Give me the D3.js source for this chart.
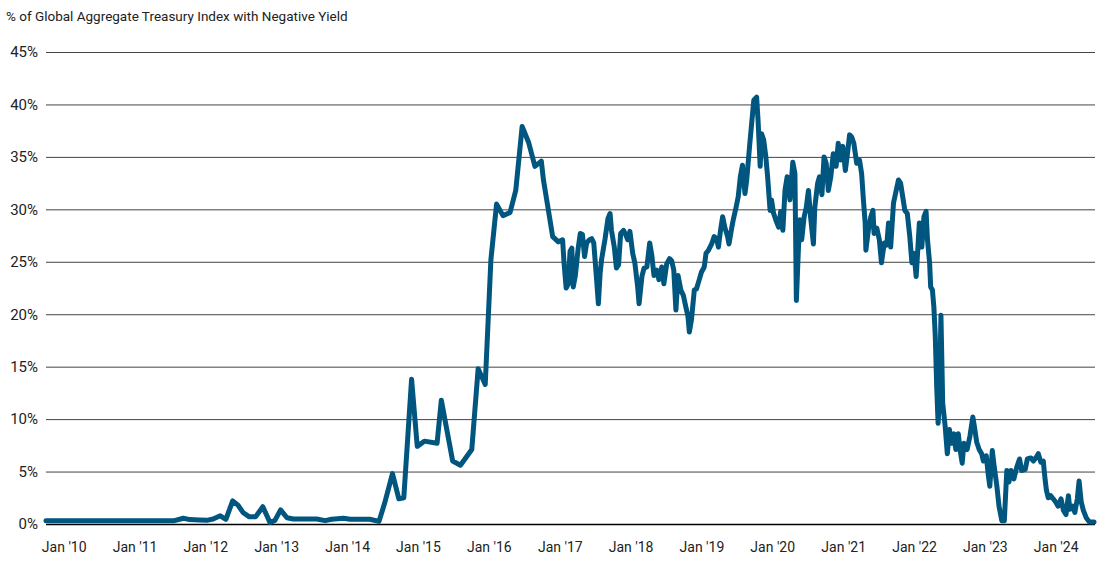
<!DOCTYPE html>
<html>
<head>
<meta charset="utf-8">
<script src="https://cdn.jsdelivr.net/npm/d3@7"></script>
<style>
  body { margin: 0; background: #fff; }
  svg text { font-family: "Roboto", "Liberation Sans", sans-serif; fill: #222; }
</style>
</head>
<body>
<svg id="chart" width="1100" height="561"></svg>
<script>
// chart title
let titleText = '% of Global Aggregate Treasury Index with Negative Yield'

// y axis ticks (percent)
let yTicks = [0, 5, 10, 15, 20, 25, 30, 35, 40, 45]

// x axis ticks (January of each year) and labels
let tickYears = [2010, 2011, 2012, 2013, 2014, 2015, 2016, 2017, 2018, 2019, 2020, 2021, 2022, 2023, 2024]
let tickLabels = ["Jan '10", "Jan '11", "Jan '12", "Jan '13", "Jan '14", "Jan '15", "Jan '16", "Jan '17",
    "Jan '18", "Jan '19", "Jan '20", "Jan '21", "Jan '22", "Jan '23", "Jan '24"]

// series: dates as decimal years, values in %
let dates = [
    2009.75, 2010.0, 2010.5, 2011.0, 2011.22, 2011.55, 2011.69, 2011.78, 2011.92, 2012.02,
    2012.11, 2012.21, 2012.29, 2012.385, 2012.46, 2012.53, 2012.62, 2012.71, 2012.81, 2012.91,
    2012.98, 2013.06, 2013.15, 2013.24, 2013.57, 2013.69, 2013.78, 2013.95, 2014.04, 2014.32,
    2014.45, 2014.53, 2014.64, 2014.73, 2014.80, 2014.91, 2014.99, 2015.09, 2015.27, 2015.33,
    2015.49, 2015.60, 2015.76, 2015.85, 2015.95, 2016.03, 2016.11, 2016.20, 2016.30, 2016.38,
    2016.47, 2016.56, 2016.65, 2016.74, 2016.77, 2016.84, 2016.90, 2016.98,
    // 2017 - 2018
    2017.04, 2017.06, 2017.09, 2017.12, 2017.145, 2017.17, 2017.19, 2017.22, 2017.26, 2017.29,
    2017.32, 2017.35, 2017.38, 2017.42, 2017.45, 2017.48, 2017.52, 2017.545, 2017.57, 2017.59,
    2017.64, 2017.68, 2017.71, 2017.73, 2017.77, 2017.80, 2017.83, 2017.86, 2017.90, 2017.93,
    2017.96, 2017.99, 2018.03, 2018.06, 2018.10, 2018.12, 2018.16, 2018.19, 2018.23, 2018.27,
    2018.30, 2018.33, 2018.37, 2018.40, 2018.44, 2018.47, 2018.51, 2018.55, 2018.58, 2018.61,
    2018.64, 2018.67, 2018.71, 2018.745, 2018.78, 2018.81, 2018.83, 2018.86, 2018.90, 2018.93,
    2018.97,
    // 2019 - 2020
    2019.00, 2019.04, 2019.065, 2019.10, 2019.145, 2019.18, 2019.215, 2019.24, 2019.27, 2019.30,
    2019.33, 2019.37, 2019.39, 2019.43, 2019.45, 2019.49, 2019.52, 2019.55, 2019.58, 2019.615,
    2019.64, 2019.68, 2019.71, 2019.74, 2019.78, 2019.80, 2019.83, 2019.85, 2019.88, 2019.91,
    2019.935, 2019.97, 2019.99, 2020.02, 2020.05, 2020.09, 2020.12, 2020.15, 2020.18, 2020.21,
    2020.25, 2020.29, 2020.32, 2020.34, 2020.37, 2020.39, 2020.415, 2020.45, 2020.48, 2020.51,
    2020.54, 2020.58, 2020.60, 2020.64, 2020.665, 2020.70, 2020.73, 2020.76, 2020.79, 2020.825,
    2020.86, 2020.90, 2020.93, 2020.96, 2020.995,
    // 2021 - 2022
    2021.03, 2021.06, 2021.09, 2021.12, 2021.15, 2021.19, 2021.23, 2021.26, 2021.285, 2021.31,
    2021.32, 2021.355, 2021.39, 2021.42, 2021.435, 2021.475, 2021.51, 2021.54, 2021.58, 2021.615,
    2021.64, 2021.67, 2021.71, 2021.745, 2021.78, 2021.81, 2021.84, 2021.87, 2021.905, 2021.94,
    2021.97, 2022.00, 2022.03, 2022.05, 2022.075, 2022.11, 2022.14, 2022.17, 2022.19, 2022.22,
    2022.235, 2022.26, 2022.28, 2022.30, 2022.32, 2022.34, 2022.36, 2022.38, 2022.405, 2022.44,
    2022.47, 2022.50, 2022.53, 2022.565, 2022.59, 2022.625, 2022.65, 2022.68, 2022.705, 2022.75,
    2022.79, 2022.83, 2022.85, 2022.885, 2022.92, 2022.955, 2022.98,
    // 2023 - 2024
    2023.02, 2023.05, 2023.07, 2023.105, 2023.13, 2023.17, 2023.20, 2023.24, 2023.275, 2023.31,
    2023.34, 2023.37, 2023.41, 2023.45, 2023.49, 2023.52, 2023.57, 2023.60, 2023.65, 2023.685,
    2023.72, 2023.755, 2023.79, 2023.825, 2023.85, 2023.87, 2023.895, 2023.93, 2023.965, 2024.00,
    2024.035, 2024.075, 2024.11, 2024.145, 2024.18, 2024.20, 2024.24, 2024.27, 2024.305, 2024.33,
    2024.36, 2024.39, 2024.43, 2024.475, 2024.54
]
let values = [
    0.3, 0.3, 0.3, 0.3, 0.3, 0.3, 0.55, 0.42, 0.38, 0.35,
    0.48, 0.78, 0.45, 2.2, 1.8, 1.1, 0.68, 0.7, 1.65, 0.15,
    0.35, 1.35, 0.6, 0.48, 0.48, 0.32, 0.45, 0.55, 0.45, 0.45,
    0.25, 2.0, 4.8, 2.4, 2.5, 13.8, 7.4, 7.9, 7.7, 11.8,
    6.0, 5.6, 7.1, 14.8, 13.3, 25.2, 30.5, 29.4, 29.7, 31.8,
    37.9, 36.4, 34.1, 34.6, 32.8, 29.9, 27.4, 26.9,
    // 2017 - 2018
    27.1, 24.9, 22.5, 22.9, 26.0, 26.3, 22.6, 23.7, 26.3, 27.7,
    27.6, 25.5, 26.8, 27.1, 27.2, 26.8, 23.3, 21.0, 23.9, 25.2,
    27.2, 29.1, 29.6, 28.0, 26.4, 24.4, 24.7, 27.7, 28.0, 27.6,
    27.1, 27.9, 25.8, 24.9, 22.6, 21.0, 23.6, 24.4, 24.5, 26.8,
    25.6, 23.7, 24.2, 23.3, 24.5, 22.9, 24.8, 25.3, 25.1, 24.2,
    20.4, 23.7, 22.3, 21.8, 20.7, 19.8, 18.3, 19.5, 22.3, 22.4,
    23.3,
    // 2019 - 2020
    24.0, 24.5, 25.8, 26.1, 26.7, 27.4, 27.2, 26.4, 28.0, 29.3,
    28.3, 27.4, 26.7, 28.3, 29.0, 30.2, 31.2, 33.1, 34.2, 31.5,
    32.8, 36.0, 38.2, 40.4, 40.7, 38.5, 34.1, 37.2, 36.6, 35.0,
    33.1, 29.9, 30.9, 29.6, 29.0, 28.3, 29.8, 28.0, 31.8, 33.1,
    30.9, 34.5, 33.4, 21.3, 26.4, 29.0, 27.1, 29.3, 30.2, 31.8,
    29.3, 26.7, 30.2, 32.5, 33.1, 31.4, 35.0, 34.4, 31.8, 33.1,
    35.3, 34.1, 36.3, 34.7, 36.0,
    // 2021 - 2022
    33.7, 35.3, 37.1, 36.9, 36.3, 34.4, 34.7, 33.4, 30.9, 28.7,
    26.1, 28.0, 29.3, 29.9, 27.7, 28.2, 27.1, 24.9, 26.8, 26.6,
    28.7, 26.4, 30.6, 31.7, 32.8, 32.5, 31.2, 29.9, 29.6, 27.4,
    24.9, 25.8, 23.6, 25.8, 28.7, 26.4, 29.3, 29.8, 27.1, 24.9,
    22.6, 22.3, 20.7, 17.9, 13.1, 9.6, 12.0, 19.9, 11.5, 9.3,
    6.7, 9.0, 7.7, 8.6, 7.1, 8.6, 7.1, 5.8, 7.7, 7.1,
    8.4, 10.2, 9.4, 7.8, 7.1, 6.7, 6.0,
    // 2023 - 2024
    6.5, 4.6, 3.6, 7.0, 5.6, 3.6, 1.7, 0.3, 0.3, 5.1,
    4.0, 5.1, 4.3, 5.4, 6.2, 5.1, 5.2, 6.2, 6.3, 6.0,
    6.3, 6.7, 5.9, 6.0, 4.3, 3.2, 2.5, 2.7, 2.4, 2.1,
    1.7, 2.4, 1.3, 0.9, 2.7, 1.4, 1.7, 1.1, 2.4, 4.1,
    2.1, 1.3, 0.6, 0.2, 0.2
]

// decimal year -> Date
function toDate(yr) {
    let y = Math.floor(yr)
    let start = new Date(y, 0, 1)
    let end = new Date(y + 1, 0, 1)
    return new Date(start.getTime() + (yr - y) * (end - start))
}

let seriesData = dates.map((d, i) => ({date: toDate(d), value: values[i]}))

let margin = {top: 52, right: 5, bottom: 37, left: 46}
let width = 1100 - margin.left - margin.right
let height = 561 - margin.top - margin.bottom

let svg = d3.select('svg#chart')

svg.append('text')
    .attr('x', 6)
    .attr('y', 21)
    .style('font-size', '13.5px')
    .text(titleText)

let g = svg.append('g')
    .attr('transform', `translate(${margin.left},${margin.top})`)

let x = d3.scaleTime()
    .domain([toDate(2009.75), toDate(2024.54)])
    .range([0, 1094 - margin.left])

let y = d3.scaleLinear()
    .domain([0, 45])
    .range([height, 0])

// y axis with gridlines
let yAxis = g.append('g')
    .call(d3.axisLeft(y)
        .tickValues(yTicks)
        .tickSize(-width)
        .tickPadding(8)
        .tickFormat(d => d + '%'))
yAxis.select('.domain').remove()
yAxis.selectAll('.tick line')
    .attr('stroke', '#444')
    .attr('stroke-width', 1)
yAxis.selectAll('.tick text')
    .style('font-size', '15px')
    .attr('fill', '#222')
yAxis.selectAll('.tick')
    .filter(d => d === 0)
    .select('line')
    .attr('stroke', '#000')
    .attr('stroke-width', 1.6)

// x axis labels
let xAxis = g.append('g')
    .attr('transform', `translate(0,${height})`)
    .call(d3.axisBottom(x)
        .tickValues(tickYears.map(d => toDate(d)))
        .tickSize(0)
        .tickPadding(18)
        .tickFormat((d, i) => tickLabels[i]))
xAxis.select('.domain').remove()
xAxis.selectAll('.tick text')
    .style('font-size', '14px')
    .attr('fill', '#222')

// the line
let line = d3.line()
    .x(d => x(d.date))
    .y(d => y(d.value))

g.append('path')
    .datum(seriesData)
    .attr('d', line)
    .attr('fill', 'none')
    .attr('stroke', '#00567e')
    .attr('stroke-width', 5)
    .attr('stroke-linejoin', 'round')
    .attr('stroke-linecap', 'round')
</script>
</body>
</html>
